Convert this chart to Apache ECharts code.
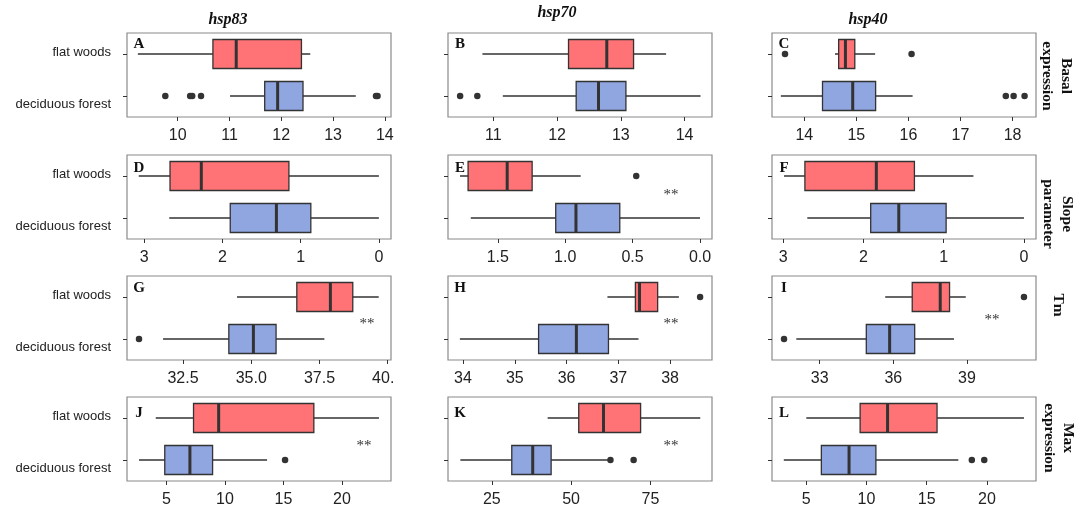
<!DOCTYPE html>
<html>
<head>
<meta charset="utf-8">
<script src="https://cdn.jsdelivr.net/npm/echarts@6/dist/echarts.min.js"></script>
<style>html,body{margin:0;background:#fff}#chart{width:1079px;height:508px}</style>
</head>
<body>
<div id="chart"></div>
<script>
var groups = ['flat woods', 'deciduous forest'];
var genes = ['hsp83', 'hsp70', 'hsp40'];
var traits = ['Basal\nexpression', 'Slope\nparameter', 'Tm', 'Max\nexpression'];
var letters = ['A', 'B', 'C', 'D', 'E', 'F', 'G', 'H', 'I', 'J', 'K', 'L'];

// [lower whisker, Q1, median, Q3, upper whisker] for panels A..L
var flatWoods = [
	[9.23, 10.68, 11.13, 12.39, 12.56],
	[10.83, 12.18, 12.78, 13.20, 13.71],
	[14.59, 14.66, 14.79, 14.97, 15.36],
	[0.0, 1.15, 2.27, 2.67, 3.07],
	[0.885, 1.245, 1.43, 1.72, 1.78],
	[0.63, 1.365, 1.84, 2.73, 2.99],
	[34.48, 36.67, 37.90, 38.72, 39.67],
	[36.79, 37.33, 37.41, 37.76, 38.17],
	[35.67, 36.77, 37.91, 38.29, 38.95],
	[4.08, 7.31, 9.46, 17.6, 23.17],
	[42.6, 52.4, 60.2, 71.9, 90.7],
	[5.0, 9.47, 11.75, 15.86, 23.08]
];
var deciduous = [
	[11.01, 11.68, 11.93, 12.42, 13.44],
	[11.15, 12.30, 12.65, 13.08, 14.25],
	[13.55, 14.35, 14.93, 15.37, 16.08],
	[0.0, 0.87, 1.31, 1.90, 2.68],
	[0.0, 0.595, 0.92, 1.07, 1.70],
	[0.0, 0.97, 1.56, 1.91, 2.70],
	[31.77, 34.18, 35.08, 35.91, 37.68],
	[33.94, 35.46, 36.19, 36.81, 37.39],
	[32.05, 34.90, 35.85, 36.87, 38.47],
	[2.65, 4.85, 7.0, 8.94, 13.6],
	[15.1, 31.3, 37.9, 43.7, 61.6],
	[3.13, 6.25, 8.55, 10.78, 17.63]
];
var flatOutliers = [[], [], [13.63, 16.06], [], [0.473], [], [], [38.58], [41.32], [], [], []];
var decidOutliers = [
	[9.76, 10.24, 10.28, 10.45, 13.83, 13.86], [10.48, 10.75], [17.87, 18.02, 18.23],
	[], [], [], [30.89], [], [31.55], [15.14], [62.4, 69.7], [18.75, 19.78]
];
var axisRange = [
	[9.02, 14.12], [10.29, 14.43], [13.38, 18.45],
	[-0.155, 3.22], [-0.089, 1.869], [-0.15, 3.14],
	[30.45, 40.12], [33.71, 38.81], [31.06, 41.81],
	[1.62, 24.2], [11.2, 94.4], [2.15, 24.08]
];
var reversed = [0, 0, 0, 1, 1, 1, 0, 0, 0, 0, 0, 0];
var tickValues = [
	[10, 11, 12, 13, 14], [11, 12, 13, 14], [14, 15, 16, 17, 18],
	[0, 1, 2, 3], [0, 0.5, 1, 1.5], [0, 1, 2, 3],
	[32.5, 35, 37.5, 40], [34, 35, 36, 37, 38], [33, 36, 39],
	[5, 10, 15, 20], [25, 50, 75], [5, 10, 15, 20]
];
var tickLabels = [
	['10', '11', '12', '13', '14'], ['11', '12', '13', '14'], ['14', '15', '16', '17', '18'],
	['0', '1', '2', '3'], ['0.0', '0.5', '1.0', '1.5'], ['0', '1', '2', '3'],
	['32.5', '35.0', '37.5', '40.'], ['34', '35', '36', '37', '38'], ['33', '36', '39'],
	['5', '10', '15', '20'], ['25', '50', '75'], ['5', '10', '15', '20']
];
var signif = ['', '', '', '', '**', '', '**', '**', '**', '**', '**', ''];

(function() {
	var colFlat = '#ff7376', colDecid = '#90a6e1', ink = '#333333';
	var sans = 'Liberation Sans', serif = 'Liberation Serif';
	var panelLeft = [127, 448, 772], panelTop = [33, 155, 276, 397], panelW = 264, panelH = 84;
	var starPos = {4: [223, 40], 6: [240, 48], 7: [223, 48], 8: [220, 44], 9: [237, 49], 10: [223, 49]};

	var grid = [], xAxis = [], yAxis = [], series = [], graphic = [];

	for (var i = 0; i < 12; i++) {
		var r = Math.floor(i / 3), c = i % 3;
		var px = panelLeft[c], py = panelTop[r];
		grid.push({left: px, top: py, width: panelW, height: panelH, outerBoundsMode: 'none',
			show: true, borderColor: '#8a8a8a', borderWidth: 1.2, backgroundColor: '#fff'});
		(function(i) {
			xAxis.push({
				gridIndex: i, type: 'value', min: axisRange[i][0], max: axisRange[i][1],
				inverse: !!reversed[i], axisLine: {show: false, onZero: false}, splitLine: {show: false},
				axisTick: {show: true, length: 4, customValues: tickValues[i], lineStyle: {color: ink, width: 1}},
				axisLabel: {
					customValues: tickValues[i], margin: 10.5, fontSize: 16, color: '#222', fontFamily: sans,
					formatter: function(v) {
						var k = tickValues[i].indexOf(v);
						var s = k < 0 ? String(v) : tickLabels[i][k];
						// last label of G is cut off in the original figure
						return s === '40.' ? '{cut|' + s + '}' : s;
					},
					rich: {cut: {fontSize: 16, color: '#222', fontFamily: sans, padding: [0, 9, 0, 0]}}
				}
			});
		})(i);
		yAxis.push({
			gridIndex: i, type: 'category', data: groups, inverse: true,
			axisLine: {show: false, onZero: false}, splitLine: {show: false},
			axisTick: {show: true, length: 4, alignWithLabel: true, lineStyle: {color: ink, width: 1}},
			axisLabel: {
				show: c === 0, margin: 16, fontSize: 13, color: '#222', fontFamily: sans,
				formatter: function(v) { return v === 'flat woods' ? '{up|' + v + '}' : '{dn|' + v + '}'; },
				rich: {
					up: {fontSize: 13, color: '#222', fontFamily: sans, padding: [0, 0, 3, 0]},
					dn: {fontSize: 13, color: '#222', fontFamily: sans, padding: [16, 0, 0, 0]}
				}
			}
		});

		var f = flatWoods[i], d = deciduous[i];
		// whiskers: one line per group, drawn under the box
		series.push({type: 'line', xAxisIndex: i, yAxisIndex: i, data: [[f[0], 0], [f[4], 0]], symbol: 'none',
			lineStyle: {color: ink, width: 1.3}, z: 1});
		series.push({type: 'line', xAxisIndex: i, yAxisIndex: i, data: [[d[0], 1], [d[4], 1]], symbol: 'none',
			lineStyle: {color: ink, width: 1.3}, z: 1});
		series.push({type: 'boxplot', xAxisIndex: i, yAxisIndex: i, boxWidth: [29, 29], z: 2,
			itemStyle: {borderColor: ink, borderWidth: 1.3},
			data: [
				{value: [f[1], f[1], f[2], f[3], f[3]], itemStyle: {color: colFlat}},
				{value: [d[1], d[1], d[2], d[3], d[3]], itemStyle: {color: colDecid}}
			]});
		// thick median bar
		series.push({type: 'scatter', xAxisIndex: i, yAxisIndex: i, symbol: 'rect', symbolSize: [3, 29],
			itemStyle: {color: ink, opacity: 1}, z: 3, data: [[f[2], 0], [d[2], 1]]});
		var pts = flatOutliers[i].map(function(v) { return [v, 0]; })
			.concat(decidOutliers[i].map(function(v) { return [v, 1]; }));
		series.push({type: 'scatter', xAxisIndex: i, yAxisIndex: i, symbol: 'circle', symbolSize: 6.5,
			itemStyle: {color: ink, opacity: 1}, z: 3, data: pts});

		graphic.push({type: 'text', x: px + 12, y: py + [11, 13, 12, 16][r],
			style: {text: letters[i], font: 'bold 15px "' + serif + '"', fill: '#111', align: 'center', verticalAlign: 'middle'}});
		if (signif[i]) {
			graphic.push({type: 'text', x: px + starPos[i][0], y: py + starPos[i][1],
				style: {text: signif[i], font: '15px "' + serif + '"', fill: ink, align: 'center', verticalAlign: 'middle'}});
		}
	}

	var titlePos = [[228, 20], [557, 13], [868, 20]];
	genes.forEach(function(t, k) {
		graphic.push({type: 'text', x: titlePos[k][0], y: titlePos[k][1],
			style: {text: t, font: 'italic bold 16px "' + serif + '"', fill: '#111', align: 'center', verticalAlign: 'middle'}});
	});
	var traitPos = [[1056, 76], [1057, 214], [1058, 305], [1058, 438]];
	traits.forEach(function(t, k) {
		graphic.push({type: 'text', x: traitPos[k][0], y: traitPos[k][1], rotation: -Math.PI / 2,
			style: {text: t, font: 'bold 15.5px "' + serif + '"', fill: '#111', align: 'center', verticalAlign: 'middle', lineHeight: 19}});
	});

	var chart = echarts.init(document.getElementById('chart'));
	chart.setOption({
		animation: false,
		backgroundColor: '#fff',
		grid: grid,
		xAxis: xAxis,
		yAxis: yAxis,
		series: series,
		graphic: graphic
	});
})();
</script>
</body>
</html>
